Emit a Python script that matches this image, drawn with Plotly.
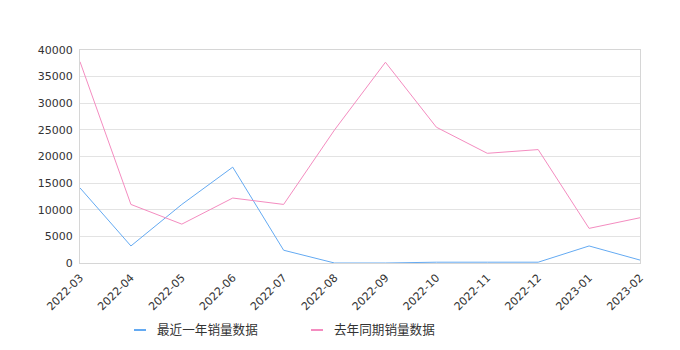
import plotly.graph_objects as go

months = ["2022-03", "2022-04", "2022-05", "2022-06", "2022-07", "2022-08",
          "2022-09", "2022-10", "2022-11", "2022-12", "2023-01", "2023-02"]
recent = [14100, 3200, 11000, 18000, 2400, 0, 0, 150, 150, 150, 3200, 550]
last_year = [37800, 11000, 7300, 12200, 11000, 25000, 37700, 25500, 20600, 21300, 6500, 8500]
y_ticks = [0, 5000, 10000, 15000, 20000, 25000, 30000, 35000, 40000]
y_labels = ["0", "5000", "10000", "15000", "20000", "25000", "30000", "35000", "40000"]
series_names = ["最近一年销量数据", "去年同期销量数据"]
series_colors = ["#64aaf2", "#f48cc0"]

fig = go.Figure()
for name, vals, col in zip(series_names, [recent, last_year], series_colors):
    fig.add_trace(go.Scatter(x=months, y=vals, mode="lines", name=name,
                             line=dict(color=col, width=1), showlegend=False))

# custom legend (short dash + label), positioned in pixel-derived paper coords
W, H, L, R, T, B = 680, 350, 80, 40, 50, 87
pw, ph = W - L - R, H - T - B
def px(x):
    return (x - L) / pw
def py(y):
    return (H - B - y) / ph

legend_x = [134, 311]
for i, (name, col) in enumerate(zip(series_names, series_colors)):
    x0 = legend_x[i]
    fig.add_shape(type="line", xref="paper", yref="paper",
                  x0=px(x0), x1=px(x0 + 12), y0=py(330), y1=py(330),
                  line=dict(color=col, width=2))
    fig.add_annotation(xref="paper", yref="paper", x=px(x0 + 21), y=py(328),
                       text=name, showarrow=False, xanchor="left", yanchor="middle",
                       font=dict(family="Noto Sans CJK SC", size=12.6, color="#333"))

fig.update_layout(
    width=W, height=H,
    margin=dict(l=L, r=R, t=T, b=B),
    paper_bgcolor="white", plot_bgcolor="white",
    font=dict(family="DejaVu Sans, Noto Sans CJK SC", size=11, color="#333"),
    showlegend=False,
    xaxis=dict(type="category", tickangle=-45, showgrid=False, range=[0, 11],
               showline=True, linecolor="#d6d6d6", mirror=True, ticks="", automargin=False,
               ticklabelstandoff=3, tickfont=dict(size=11, color="#333")),
    yaxis=dict(range=[0, 40000], tickvals=y_ticks, ticktext=y_labels, showgrid=True,
               gridcolor="#e3e3e3", automargin=False, ticklabelstandoff=4,
               showline=True, linecolor="#d6d6d6", mirror=True, zeroline=False,
               tickfont=dict(size=11, color="#333")),
)
fig.write_html("out.html")
